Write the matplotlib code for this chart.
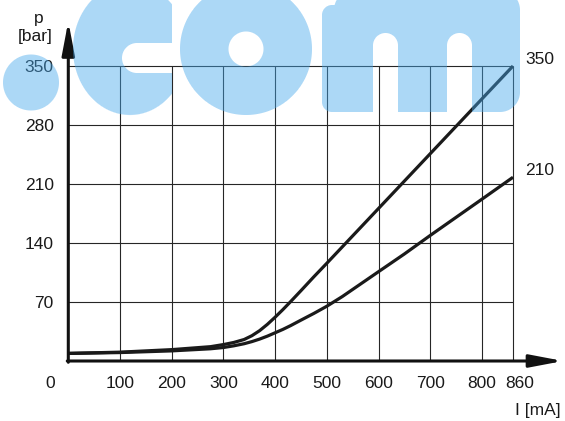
import matplotlib
matplotlib.use("Agg")
import matplotlib.pyplot as plt
import numpy as np
from matplotlib.patches import FancyArrowPatch
from matplotlib.transforms import offset_copy

# Pressure p [bar] against control current I [mA] for two pressure settings
current_ma = [0, 100, 200, 275, 300, 320, 340, 355, 370, 385, 400, 415, 430, 450,
              475, 500, 530, 600, 650, 700, 800, 860]
p_curve_350 = [9, 10.5, 13.5, 17, 19.5, 22, 25.5, 30, 36, 43.5, 52, 61, 70.5, 83.5,
               100, 116, 135.5, 181, 213.5, 246, 311, 350]
p_curve_210 = [9, 10, 12, 14.5, 16, 18, 20.5, 23, 26, 29.5, 33.5, 37.5, 42, 48.5,
               56.5, 65, 76.5, 106, 127, 149, 192, 218]
curve_names = ["350", "210"]

x_ticks = [100, 200, 300, 400, 500, 600, 700, 800, 860]
x_tick_labels = ["100", "200", "300", "400", "500", "600", "700", "800", "860"]
y_ticks = [70, 140, 210, 280, 350]
y_tick_labels = ["70", "140", "210", "280", "350"]

W, H = 565, 421
plt.rcParams["font.family"] = ["Liberation Sans", "DejaVu Sans"]
FS = 12.5
INK = "#1a1a1a"

fig = plt.figure(figsize=(W / 100, H / 100), dpi=100)
fig.patch.set_facecolor("white")

# plot area: data origin at (68, 361) px, (860, 350) at (513, 66) px
left_px, right_px = 68.3, 513.0
bottom_px, top_px = 361.0, 66.0
ax = fig.add_axes([left_px / W, 1 - bottom_px / H,
                   (right_px - left_px) / W, (bottom_px - top_px) / H])
ax.set_xlim(0, 860)
ax.set_ylim(0, 350)
for s in ax.spines.values():
    s.set_visible(False)
ax.set_facecolor("none")

ax.set_xticks(x_ticks)
ax.set_yticks(y_ticks)
ax.set_xticklabels([])
ax.set_yticklabels(y_tick_labels, fontsize=FS, color=INK)
ax.tick_params(axis="both", length=0)
ax.tick_params(axis="y", pad=10.5)

# grid
ax.vlines(x_ticks, 0, 350, color="#262626", lw=0.8, zorder=1, clip_on=False)
ax.hlines(y_ticks, 0, 860, color="#262626", lw=0.8, zorder=1, clip_on=False)

# x tick labels below the axis
for v, lab in zip(x_ticks, x_tick_labels):
    dx = 7 if lab == "860" else 0
    tr = offset_copy(ax.transData, fig=fig, x=dx, y=-22, units="dots")
    ax.text(v, 0, lab, transform=tr, ha="center", va="center", fontsize=FS,
            color=INK, clip_on=False)
tr0 = offset_copy(ax.transData, fig=fig, x=-18, y=-22, units="dots")
ax.text(0, 0, "0", transform=tr0, ha="center", va="center", fontsize=FS,
        color=INK, clip_on=False)

# characteristic curves
for ys in (p_curve_350, p_curve_210):
    ax.plot(current_ma, ys, color=INK, lw=2.3, solid_capstyle="butt",
            solid_joinstyle="round", zorder=4, clip_on=False)
for name, ys in zip(curve_names, [p_curve_350, p_curve_210]):
    ax.annotate(name, xy=(current_ma[-1], ys[-1]), xytext=(9, 5),
                textcoords="offset points", ha="left", va="center",
                fontsize=FS, color=INK, annotation_clip=False)

# axes with arrow heads
arrow_kw = dict(arrowstyle="-|>,head_length=2.0,head_width=0.38", mutation_scale=10,
                lw=2.2, color="#111111", shrinkA=0, shrinkB=0, clip_on=False, zorder=5)
ax.add_patch(FancyArrowPatch((-2, 0), (957, 0), **arrow_kw))
ax.add_patch(FancyArrowPatch((0, -1.5), (0, 403), **arrow_kw))

# axis titles
fig.text(39 / W, 1 - 18 / H, "p", ha="center", va="center", fontsize=FS, color=INK)
fig.text(35 / W, 1 - 37 / H, "[bar]", ha="center", va="center", fontsize=FS, color=INK)
fig.text(561 / W, 1 - 410 / H, "I [mA]", ha="right", va="center", fontsize=FS, color=INK)

# translucent ".com" lettering laid over the chart, built from distance fields
yy, xx = np.mgrid[0:H, 0:W].astype(float) + 0.5


def disk(cx, cy, r):
    return np.hypot(xx - cx, yy - cy) - r


def rbox(x0, x1, y0, y1, r):
    cx, cy = (x0 + x1) / 2, (y0 + y1) / 2
    hx, hy = (x1 - x0) / 2 - r, (y1 - y0) / 2 - r
    qx = np.abs(xx - cx) - hx
    qy = np.abs(yy - cy) - hy
    return np.hypot(np.maximum(qx, 0), np.maximum(qy, 0)) + np.minimum(np.maximum(qx, qy), 0) - r


def ellipse(cx, cy, a, b):
    return (np.hypot((xx - cx) / a, (yy - cy) / b) - 1) * min(a, b)


# dot
d_dot = disk(31, 82.5, 28)
# c: ellipse with a round-ended slot cut in from the right
d_c = ellipse(130, 49, 57, 66)
d_slot = rbox(122, 260, 43, 73, 15)
d_c = np.maximum(np.maximum(d_c, -d_slot), xx - 172)
# o: ring
r_o = np.hypot(xx - 246, yy - 49)
d_o = np.maximum(r_o - 66, 17.5 - r_o)
# m: left stem plus arched block, with two counters
d_m = np.minimum(rbox(322, 373, 5, 112, 10), rbox(334, 520, -10, 112, 20))
d_m = np.maximum(d_m, -rbox(373, 398, 33, 200, 12.5))
d_m = np.maximum(d_m, -rbox(447, 472, 33, 200, 12.5))

d_all = np.minimum(np.minimum(d_dot, d_c), np.minimum(d_o, d_m))
cover = np.clip(0.5 - d_all, 0, 1)

mark = np.zeros((H, W, 4))
mark[..., 0] = 70 / 255
mark[..., 1] = 168 / 255
mark[..., 2] = 236 / 255
mark[..., 3] = 0.45 * cover
fig.figimage(mark, xo=0, yo=0, origin="upper", zorder=20)

fig.savefig("out.png", dpi=100, facecolor="white")
